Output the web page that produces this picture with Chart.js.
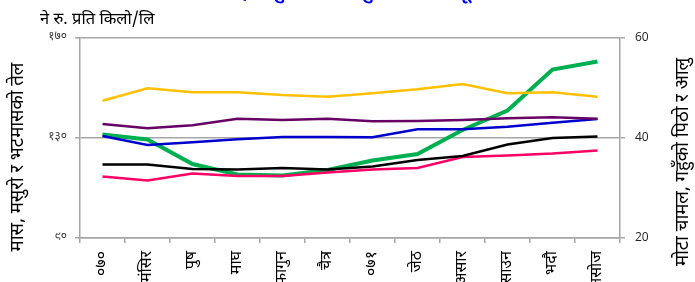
<!DOCTYPE html>
<html lang="ne">
<head>
<meta charset="UTF-8" />
<title>खाद्यवस्तुको मूल्य</title>
<script src="https://cdn.jsdelivr.net/npm/chart.js"></script>
<style>
  html, body { margin: 0; padding: 0; background: #fff; overflow: hidden; }
  #wrap { position: relative; width: 695px; height: 300px; }
</style>
</head>
<body>
<div id="wrap"><canvas id="priceChart"></canvas></div>
<script>
  const months = ["०७०", "मंसिर", "पुष", "माघ", "फागुन", "चैत्र", "०७१", "जेठ", "असार", "साउन", "भदौ", "असोज"];

  // left axis (रु.)
  const soyOil = [144.9, 149.9, 148.3, 148.3, 147.2, 146.5, 147.9, 149.5, 151.6, 147.9, 148.3, 146.5];
  const musuro = [135.6, 133.9, 135.1, 137.7, 137.2, 137.7, 136.7, 136.8, 137.2, 137.9, 138.3, 137.7];
  const mas    = [130.8, 127.2, 128.3, 129.5, 130.4, 130.4, 130.3, 133.5, 133.5, 134.5, 136.1, 137.6];

  // right axis (रु.)
  const rice   = [34.7, 34.7, 33.8, 33.7, 34.0, 33.7, 34.3, 35.6, 36.4, 38.7, 40.0, 40.3];
  const flour  = [32.3, 31.5, 32.9, 32.4, 32.4, 33.1, 33.7, 34.0, 36.2, 36.5, 36.9, 37.5];
  const potato = [40.7, 39.7, 34.8, 32.7, 32.5, 33.6, 35.5, 36.8, 41.6, 45.5, 53.7, 55.3];

  const leftTicks = { 90: "९०", 130: "१३०", 170: "१७०" };

  const deva = "'Noto Sans Devanagari', 'Lohit Devanagari', 'Noto Sans', sans-serif";
  const gray = "#a6a6a6";

  // extra text: heading, unit, rotated axis titles
  const textPlugin = {
    id: "texts",
    afterDraw(chart) {
      const ctx = chart.ctx;
      ctx.save();
      ctx.fillStyle = "#0000ff";
      ctx.font = "bold 19px " + deva;
      ctx.textAlign = "center";
      ctx.textBaseline = "alphabetic";
      ctx.fillText("केही प्रमुख खाद्यवस्तुको मासिक मूल्य", 357, -2);

      ctx.fillStyle = "#000";
      ctx.font = "16.5px " + deva;
      ctx.textAlign = "left";
      ctx.fillText("ने रु. प्रति किलो/लि", 40, 24);

      ctx.font = "18.5px " + deva;
      ctx.textAlign = "center";
      ctx.translate(23, 157);
      ctx.rotate(-Math.PI / 2);
      ctx.fillText("मास, मसुरो र भटमासको तेल", 0, 0);
      ctx.restore();

      ctx.save();
      ctx.fillStyle = "#000";
      ctx.font = "18.5px " + deva;
      ctx.textAlign = "center";
      ctx.translate(688, 162);
      ctx.rotate(-Math.PI / 2);
      ctx.fillText("मोटा चामल, गहुँको पिठो र आलु", 0, 0);
      ctx.restore();
    }
  };

  function line(label, data, color, axis, width) {
    return {
      label, data, yAxisID: axis,
      borderColor: color, backgroundColor: color,
      borderWidth: width, pointRadius: 0, tension: 0, fill: false
    };
  }

  new Chart(document.getElementById("priceChart"), {
    type: "line",
    data: {
      labels: months,
      datasets: [
        line("भटमासको तेल", soyOil, "#ffc000", "y", 2.5),
        line("मसुरो", musuro, "#660066", "y", 2.5),
        line("मास", mas, "#0000cc", "y", 2.5),
        line("मोटा चामल", rice, "#000000", "y1", 2.5),
        line("गहुँको पिठो", flour, "#ff0066", "y1", 2.5),
        line("आलु", potato, "#00b050", "y1", 4)
      ]
    },
    options: {
      responsive: true,
      maintainAspectRatio: false,
      animation: false,
      layout: { padding: { top: 38, left: 0, right: 0, bottom: 0 } },
      plugins: { legend: { display: false }, tooltip: { enabled: false } },
      scales: {
        x: {
          offset: true,
          grid: { offset: true, drawOnChartArea: false, color: gray, lineWidth: 1.5, tickLength: 5 },
          border: { color: gray, width: 1.5 },
          ticks: { minRotation: 90, maxRotation: 90, autoSkip: false, color: "#000", padding: 8,
                   font: { family: deva, size: 16 } },
          afterFit(scale) { scale.height = 62; }
        },
        y: {
          position: "left", min: 90, max: 170,
          ticks: { stepSize: 40, color: "#404040", padding: 8, font: { family: deva, size: 12 },
                   callback: v => leftTicks[v] || "" },
          grid: { color: gray, lineWidth: 1.5, tickLength: 5 },
          border: { color: gray, width: 1.5 },
          afterFit(scale) { scale.width = 80; }
        },
        y1: {
          position: "right", min: 20, max: 60,
          ticks: { stepSize: 20, color: "#222", padding: 10, font: { family: "'Open Sans', sans-serif", size: 12 } },
          grid: { drawOnChartArea: false, color: gray, lineWidth: 1.5, tickLength: 5 },
          border: { color: gray, width: 1.5 },
          afterFit(scale) { scale.width = 75; }
        }
      }
    },
    plugins: [textPlugin]
  });
</script>
</body>
</html>
